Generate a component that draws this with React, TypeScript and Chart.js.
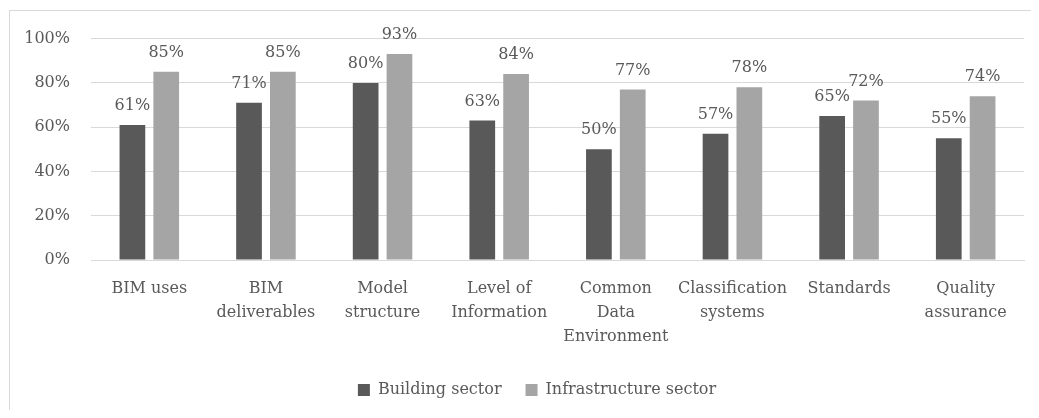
import React, { useEffect, useRef } from "react";
import { Chart, registerables } from "chart.js";

Chart.register(...registerables);

const categories: (string | string[])[] = [
  "BIM uses",
  ["BIM", "deliverables"],
  ["Model", "structure"],
  ["Level of", "Information"],
  ["Common", "Data", "Environment"],
  ["Classification", "systems"],
  "Standards",
  ["Quality", "assurance"],
];
const buildingSector = [61, 71, 80, 63, 50, 57, 65, 55];
const infrastructureSector = [85, 85, 93, 84, 77, 78, 72, 74];
const yTicks = [0, 20, 40, 60, 80, 100];

const FONT = "'DejaVu Serif', serif";
const TEXT = "#595959";

const valueLabels = {
  id: "valueLabels",
  afterDatasetsDraw(chart: any) {
    const ctx = chart.ctx;
    ctx.save();
    ctx.font = `16px ${FONT}`;
    ctx.fillStyle = TEXT;
    ctx.textAlign = "center";
    ctx.textBaseline = "alphabetic";
    chart.data.datasets.forEach((ds: any, i: number) => {
      const meta = chart.getDatasetMeta(i);
      meta.data.forEach((bar: any, j: number) => {
        ctx.fillText(ds.data[j] + "%", bar.x, bar.y - 15);
      });
    });
    ctx.restore();
  },
};

const shiftLegend = {
  id: "shiftLegend",
  afterLayout(chart: any) {
    const lg = chart.legend;
    if (lg) {
      lg.left += 21;
      lg.right += 21;
    }
  },
};

export default function App() {
  const ref = useRef<HTMLCanvasElement>(null);
  useEffect(() => {
    if (!ref.current) return;
    const chart = new Chart(ref.current, {
      type: "bar",
      data: {
        labels: categories,
        datasets: [
          {
            label: "Building sector",
            data: buildingSector,
            backgroundColor: "#595959",
            categoryPercentage: 0.58,
            barPercentage: 0.76,
          },
          {
            label: "Infrastructure sector",
            data: infrastructureSector,
            backgroundColor: "#a5a5a5",
            categoryPercentage: 0.58,
            barPercentage: 0.76,
          },
        ],
      },
      options: {
        animation: false,
        responsive: true,
        maintainAspectRatio: false,
        layout: { padding: { top: 18, right: 7, bottom: 2, left: 0 } },
        plugins: {
          legend: {
            position: "bottom",
            labels: {
              boxWidth: 12,
              boxHeight: 12,
              color: TEXT,
              font: { family: FONT, size: 16 },
              padding: 24,
            },
          },
          tooltip: { enabled: false },
        },
        scales: {
          x: {
            grid: { display: false },
            border: { display: true, color: "#d9d9d9", width: 1 },
            ticks: {
              color: TEXT,
              font: { family: FONT, size: 16, lineHeight: 1.5 },
              maxRotation: 0,
              autoSkip: false,
              padding: 9,
            },
          },
          y: {
            min: 0,
            max: 100,
            afterFit(scale: any) {
              scale.width = 83;
            },
            afterBuildTicks(scale: any) {
              scale.ticks = yTicks.map((v) => ({ value: v }));
            },
            grid: { color: "#d9d9d9", drawTicks: false },
            border: { display: false },
            ticks: {
              color: TEXT,
              font: { family: FONT, size: 16 },
              padding: 21,
              callback: (v: any) => v + "%",
            },
          },
        },
      },
      plugins: [valueLabels, shiftLegend],
    });
    return () => chart.destroy();
  }, []);

  return (
    <div
      style={{
        position: "relative",
        width: 1023,
        height: 402,
        overflow: "hidden",
      }}
    >
      <div
        style={{
          position: "absolute",
          left: 1,
          top: 2,
          width: 1100,
          height: 500,
          borderLeft: "1px solid #d9d9d9",
          borderTop: "1px solid #d9d9d9",
        }}
      />
      <canvas ref={ref} />
    </div>
  );
}
